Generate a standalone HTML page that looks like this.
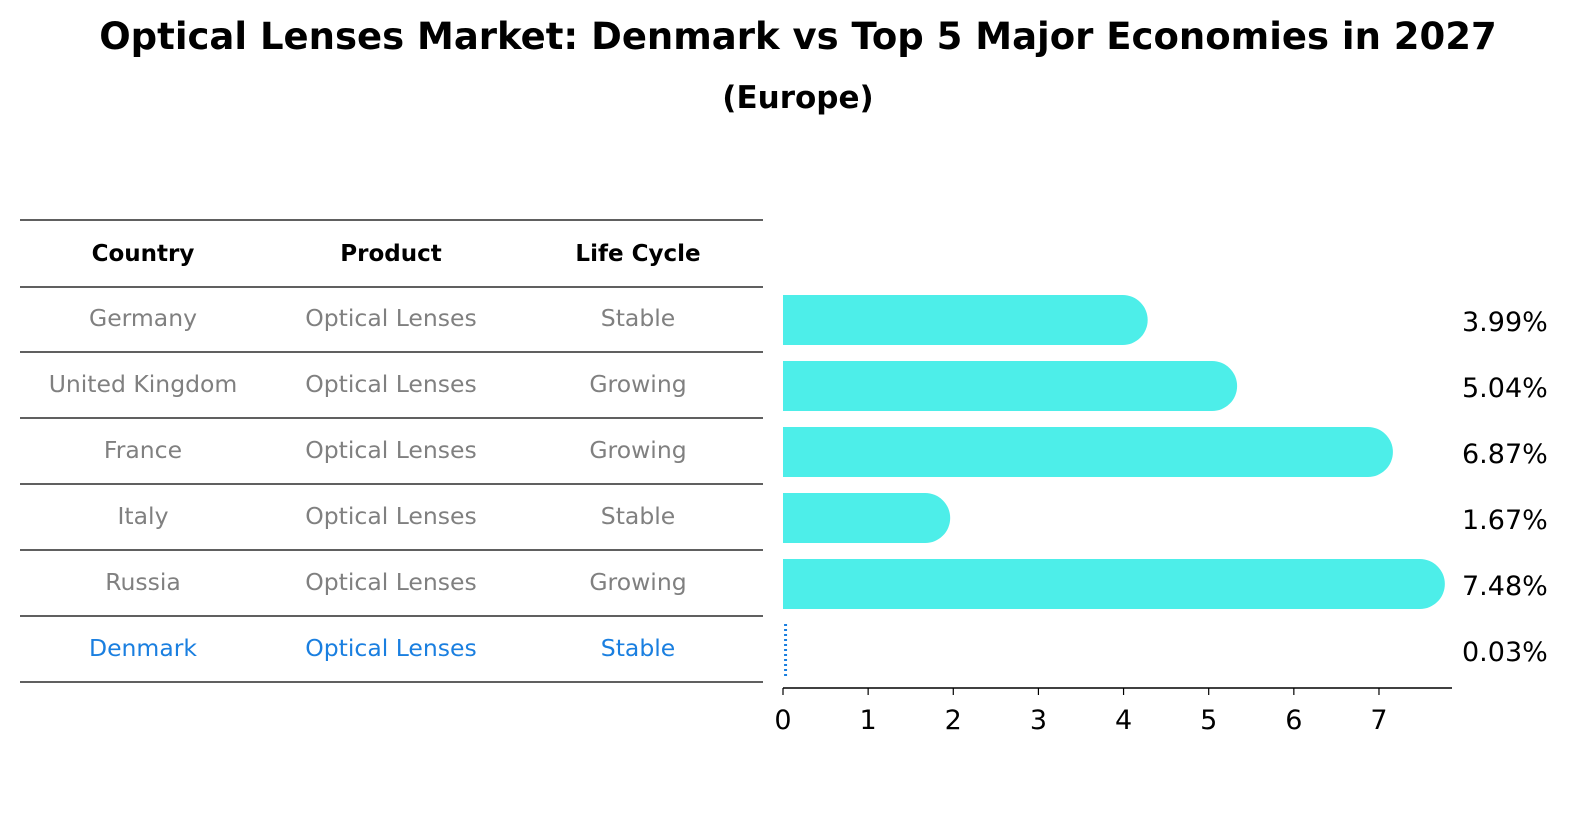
<!DOCTYPE html>
<html><head><meta charset="utf-8"><style>
body{margin:0;background:#fff;width:1586px;height:823px;overflow:hidden;font-family:"DejaVu Sans","Liberation Sans",sans-serif}
</style></head><body>
<svg width="1586" height="823" id="svg" font-family="DejaVu Sans, Liberation Sans, sans-serif">
<text x="798" y="49" text-anchor="middle" font-size="37" font-weight="bold">Optical Lenses Market: Denmark vs Top 5 Major Economies in 2027</text>
<text x="798" y="108" text-anchor="middle" font-size="31" font-weight="bold">(Europe)</text>
<g id="table"></g>
<g id="bars"></g>
</svg>
<script>
const countries=["Germany","United Kingdom","France","Italy","Russia","Denmark"];
const products=["Optical Lenses","Optical Lenses","Optical Lenses","Optical Lenses","Optical Lenses","Optical Lenses"];
const lifeCycles=["Stable","Growing","Growing","Stable","Growing","Stable"];
const values=[3.99,5.04,6.87,1.67,7.48,0.03];
const ticks=[0,1,2,3,4,5,6,7];
const NS="http://www.w3.org/2000/svg";
function mk(tag,attrs,parent,txt){const e=document.createElementNS(NS,tag);for(const k in attrs)e.setAttribute(k,attrs[k]);if(txt!==undefined)e.textContent=txt;parent.appendChild(e);return e;}
const X=v=>783+v*85.14;
const rowY=i=>320+i*66;
const tbl=document.getElementById('table'),bars=document.getElementById('bars');
const colX=[143,391,638];
const heads=["Country","Product","Life Cycle"];
heads.forEach((h,j)=>{const t=mk('text',{x:colX[j],y:261,'text-anchor':'middle','font-size':23,'font-weight':'bold'},tbl,h);

});
[220,287].forEach(y=>{const l=mk('line',{x1:20,x2:763,y1:y,y2:y,stroke:'#000','stroke-width':1.3},tbl);

});
countries.forEach((c,i)=>{
 const y=rowY(i);const col=i===countries.length-1?'#1a7fe0':'#808080';
 [c,products[i],lifeCycles[i]].forEach((s,j)=>{const t=mk('text',{x:colX[j],y:y+6,'text-anchor':'middle','font-size':23.5,fill:col},tbl,s);
 
 });
 const l=mk('line',{x1:20,x2:763,y1:y+32,y2:y+32,stroke:'#000','stroke-width':1.3},tbl);
 
 
 const v=values[i];
 if(i===countries.length-1){
  const b=mk('line',{x1:X(v),x2:X(v),y1:y-26,y2:y+26,stroke:'#1a7fe0','stroke-width':3,'stroke-dasharray':'2,3'},bars);
  
  
 }else{
  const x0=X(0),x1=X(v);
  const b=mk('path',{d:`M${x0},${y-25} L${x1},${y-25} A25,25 0 0 1 ${x1},${y+25} L${x0},${y+25} Z`,fill:'#4deee9'},bars);
  
  
 }
 const t=mk('text',{x:1462,y:y+11,'font-size':27},bars,v.toFixed(2)+'%');
 
 
});
const ax=mk('line',{x1:783,x2:1452,y1:688,y2:688,stroke:'#000','stroke-width':1.5},bars);


ticks.forEach(t=>{
 const l=mk('line',{x1:X(t),x2:X(t),y1:688,y2:695,stroke:'#000','stroke-width':1.2},bars);
 
 
 const s=mk('text',{x:X(t),y:729,'text-anchor':'middle','font-size':27},bars,String(t));
 
 
});
</script>
</body></html>
